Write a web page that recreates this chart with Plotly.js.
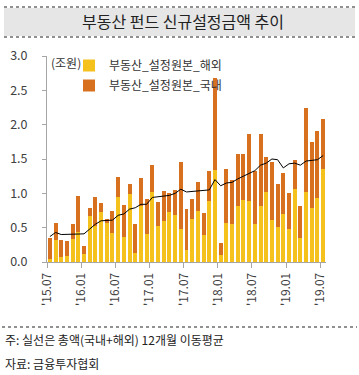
<!DOCTYPE html>
<html>
<head>
<meta charset="utf-8">
<script src="https://cdn.plot.ly/plotly-3.0.1.min.js"></script>
<style>
html,body{margin:0;padding:0;background:#fff;}
#chart{width:359px;height:375px;}
</style>
</head>
<body>
<div id="chart"></div>
<script>
// Months (2015.07 - 2019.07)
const months = [
  "2015.07","2015.08","2015.09","2015.10","2015.11","2015.12",
  "2016.01","2016.02","2016.03","2016.04","2016.05","2016.06",
  "2016.07","2016.08","2016.09","2016.10","2016.11","2016.12",
  "2017.01","2017.02","2017.03","2017.04","2017.05","2017.06",
  "2017.07","2017.08","2017.09","2017.10","2017.11","2017.12",
  "2018.01","2018.02","2018.03","2018.04","2018.05","2018.06",
  "2018.07","2018.08","2018.09","2018.10","2018.11","2018.12",
  "2019.01","2019.02","2019.03","2019.04","2019.05","2019.06",
  "2019.07"
];
// 부동산_설정원본_해외 (조원)
const overseas = [
  0.04,0.32,0.08,0.09,0.33,0.44,
  0.12,0.67,0.53,0.73,0.57,0.42,
  0.95,0.36,0.99,0.13,0.82,0.41,
  1.02,0.52,0.60,0.73,0.69,0.48,
  0.18,0.62,0.74,0.39,0.89,1.34,
  0.10,0.57,0.56,0.82,0.90,0.89,
  0.55,0.82,1.02,0.61,0.51,0.70,
  0.48,1.06,0.35,1.02,0.79,0.93,
  1.35
];
// 부동산_설정원본_국내 (조원)
const domestic = [
  0.31,0.25,0.24,0.22,0.23,0.52,
  0.12,0.12,0.41,0.13,0.05,0.32,
  0.29,0.47,0.14,0.42,0.41,0.51,
  0.39,0.35,0.44,0.27,0.36,0.97,
  0.59,0.30,0.42,0.32,0.44,1.34,
  0.18,0.79,0.63,0.75,0.67,0.98,
  0.78,1.05,0.51,0.84,0.62,0.59,
  0.53,0.43,0.47,1.23,0.96,0.98,
  0.73
];
// 총액 12개월 이동평균
const movingAvg = [
  0.37,0.43,0.40,0.40,0.40,0.40,
  0.41,0.48,0.55,0.60,0.60,0.61,
  0.68,0.70,0.77,0.79,0.84,0.84,
  0.94,0.95,0.95,0.97,1.00,1.06,
  1.02,1.03,1.03,1.04,1.05,1.20,
  1.11,1.15,1.16,1.21,1.25,1.28,
  1.33,1.41,1.44,1.50,1.49,1.37,
  1.43,1.44,1.41,1.47,1.48,1.49,
  1.55
];
const tickMonths = ["2015.07","2016.01","2016.07","2017.01","2017.07","2018.01","2018.07","2019.01","2019.07"];
const tickLabels = ["'15.07","'16.01","'16.07","'17.01","'17.07","'18.01","'18.07","'19.01","'19.07"];
const yTicks = [0,0.5,1.0,1.5,2.0,2.5,3.0];

const names = {overseas:"부동산_설정원본_해외", domestic:"부동산_설정원본_국내", ma:"총액 12개월 이동평균"};
const colors = {overseas:"#F5C11C", domestic:"#D8711F", ma:"#000000"};

const xIdx = months.map((m,i)=>i);
const tickvals = tickMonths.map(m=>months.indexOf(m)-0.5);

// pixel helpers for layout decorations
const L=47, R=326, T=56, B=262;
const px = x => (x-L)/(R-L);
const py = y => (B-y)/(B-T);

const FONT = '"Noto Sans CJK KR", "Noto Sans", sans-serif';

const traces = [
  {type:'bar', x:xIdx, y:overseas, name:names.overseas, legendgroup:'a',
   marker:{color:colors.overseas}, hoverinfo:'y+name'},
  {type:'bar', x:xIdx, y:domestic, name:names.domestic, legendgroup:'b',
   marker:{color:colors.domestic}, hoverinfo:'y+name'},
  {type:'scatter', mode:'lines', x:xIdx, y:movingAvg, name:names.ma,
   line:{color:colors.ma, width:1}, showlegend:false}
];

const layout = {
  width:359, height:375,
  margin:{l:L, r:359-R, t:T, b:375-B, pad:0},
  paper_bgcolor:'#ffffff', plot_bgcolor:'#ffffff',
  font:{family:FONT, color:'#333333', size:12},
  barmode:'stack', bargap:0.3,
  title:{text:'부동산 펀드 신규설정금액 추이', x:183/359, xanchor:'center',
         y:1-22/375, yanchor:'middle', font:{family:FONT, size:16, color:'#222222'}},
  xaxis:{range:[-0.5, months.length-0.5], tickmode:'array', tickvals:tickvals, ticktext:tickLabels,
         tickangle:-90, ticks:'outside', ticklen:5, tickcolor:'#a6a6a6', tickwidth:1,
         showline:true, linecolor:'#a6a6a6', linewidth:1, showgrid:false, zeroline:false,
         tickfont:{family:FONT, size:12, color:'#404040'}, fixedrange:true},
  yaxis:{range:[0,3], tickmode:'array', tickvals:yTicks, tickformat:'.1f',
         ticks:'outside', ticklen:4, tickcolor:'#a6a6a6', tickwidth:1,
         showline:true, linecolor:'#a6a6a6', linewidth:1, showgrid:false, zeroline:false,
         ticklabelstandoff:12,
         tickfont:{family:FONT, size:12.5, color:'#404040'}, fixedrange:true},
  showlegend:true,
  legend:{x:px(69), xanchor:'left', y:py(51), yanchor:'top', bgcolor:'rgba(0,0,0,0)',
          traceorder:'grouped', tracegroupgap:1, font:{family:FONT, size:12, color:'#333333'}},
  shapes:[
    {type:'rect', xref:'paper', yref:'paper', x0:px(4), x1:px(355), y0:py(36), y1:py(8),
     fillcolor:'#e6e6e6', line:{width:0}, layer:'below'},
    {type:'line', xref:'paper', yref:'paper', x0:px(4), x1:px(355), y0:py(7), y1:py(7),
     line:{color:'#222', width:1, dash:'dot'}},
    {type:'line', xref:'paper', yref:'paper', x0:px(4), x1:px(355), y0:py(37), y1:py(37),
     line:{color:'#222', width:1, dash:'dot'}},
    {type:'line', xref:'paper', yref:'paper', x0:px(2), x1:px(357), y0:py(327), y1:py(327),
     line:{color:'#222', width:1, dash:'dot'}}
  ],
  annotations:[
    {xref:'paper', yref:'paper', x:px(49), y:py(62), xanchor:'left', yanchor:'middle',
     text:'(조원)', showarrow:false, font:{family:FONT, size:12, color:'#333'}},
    {xref:'paper', yref:'paper', x:px(3), y:py(339), xanchor:'left', yanchor:'middle',
     text:'주: 실선은 총액(국내+해외) 12개월 이동평균', showarrow:false, font:{family:FONT, size:12, color:'#222'}},
    {xref:'paper', yref:'paper', x:px(3), y:py(363), xanchor:'left', yanchor:'middle',
     text:'자료: 금융투자협회', showarrow:false, font:{family:FONT, size:12, color:'#222'}}
  ]
};

Plotly.newPlot('chart', traces, layout, {displayModeBar:false, staticPlot:true});
</script>
</body>
</html>
